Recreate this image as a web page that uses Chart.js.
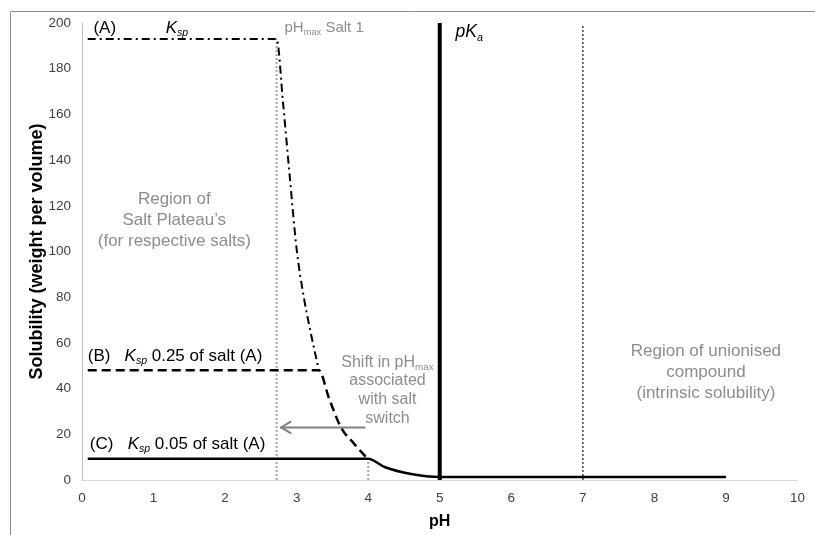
<!DOCTYPE html>
<html>
<head>
<meta charset="utf-8">
<script src="https://cdn.jsdelivr.net/npm/chart.js@4.4.0/dist/chart.umd.min.js"></script>
<style>
  html, body { margin: 0; padding: 0; background: #fff; }
  #wrap { width: 815px; height: 535px; position: relative; }
</style>
</head>
<body>
<div id="wrap"><canvas id="chart"></canvas></div>
<script>
// values
const saltA_pH = [0.08, 2.72, 2.81, 2.9, 3.0, 3.1, 3.18, 3.31];
const saltA_sol = [193, 193, 165, 134, 101, 80, 67, 48];
const saltB_pH = [0.08, 3.31, 3.45, 3.62, 3.8, 3.97];
const saltB_sol = [48, 48, 36, 23, 16, 10];
const saltC_pH = [0.08, 4.0, 4.23, 4.6, 5.0, 9.0];
const saltC_sol = [9.3, 9.3, 5.7, 2.6, 1.3, 1.3];

const pKa = 5;
const pHmaxSalt1 = 2.72;
const pHmaxSalt3 = 4.0;
const unionisedLimit = 7;
const arrowFrom = [3.96, 23];
const arrowTo = [2.77, 23];

const xTicks = [0, 1, 2, 3, 4, 5, 6, 7, 8, 9, 10];
const yTicks = [0, 20, 40, 60, 80, 100, 120, 140, 160, 180, 200];

const FONT = '"Liberation Sans", Arial, sans-serif';
const GREY = "#8c8c8c";

function pts(xs, ys) {
  return xs.map((x, i) => ({ x: x, y: ys[i] }));
}

function line(label, data, color, width, dash, extra) {
  return Object.assign({
    label: label,
    data: data,
    showLine: true,
    borderColor: color,
    borderWidth: width,
    borderDash: dash,
    pointRadius: 0,
    fill: false,
  }, extra || {});
}

// text annotations (data coordinates), drawn by the plugin below
const notes = [
  { x: 0.16, y: 198.4, color: "#000", size: 17, lines: [[{ t: "(A)" }]] },
  { x: 1.17, y: 198.4, color: "#000", size: 17, lines: [[{ t: "K", it: true }, { t: "sp", it: true, sub: true }]] },
  { x: 2.83, y: 198.4, color: GREY, size: 15, lines: [[{ t: "pH" }, { t: "max", sub: true }, { t: " Salt 1" }]] },
  { x: 5.22, y: 196.5, color: "#000", size: 17.5, lines: [[{ t: "pK", it: true }, { t: "a", it: true, sub: true }]] },
  { x: 0.08, y: 54.8, color: "#000", size: 17, lines: [[{ t: "(B)   " }, { t: "K", it: true }, { t: "sp", it: true, sub: true }, { t: " 0.25 of salt (A)" }]] },
  { x: 0.11, y: 16.2, color: "#000", size: 17, lines: [[{ t: "(C)   " }, { t: "K", it: true }, { t: "sp", it: true, sub: true }, { t: " 0.05 of salt (A)" }]] },
  { x: 1.29, y: 123.5, color: GREY, size: 17, center: true, lh: 21,
    lines: [[{ t: "Region of" }], [{ t: "Salt Plateau\u2019s" }], [{ t: "(for respective salts)" }]] },
  { x: 4.27, y: 52.1, color: GREY, size: 16, center: true, lh: 18.7,
    lines: [[{ t: "Shift in pH" }, { t: "max", sub: true }], [{ t: "associated" }], [{ t: "with salt" }], [{ t: "switch" }]] },
  { x: 8.72, y: 56.9, color: GREY, size: 17, center: true, lh: 21,
    lines: [[{ t: "Region of unionised" }], [{ t: "compound" }], [{ t: "(intrinsic solubility)" }]] },
];

function segFont(s, size) {
  const sz = s.sub ? size * 0.62 : size;
  return (s.it ? "italic " : "") + sz + "px " + FONT;
}

function drawRich(ctx, x, y, segs, size, color, center) {
  let w = 0;
  segs.forEach((s) => { ctx.font = segFont(s, size); w += ctx.measureText(s.t).width; });
  let cx = center ? x - w / 2 : x;
  const base = y + size * 0.35;
  ctx.fillStyle = color;
  ctx.textBaseline = "alphabetic";
  ctx.textAlign = "left";
  segs.forEach((s) => {
    ctx.font = segFont(s, size);
    ctx.fillText(s.t, cx, s.sub ? base + size * 0.2 : base);
    cx += ctx.measureText(s.t).width;
  });
}

const extrasPlugin = {
  id: "extras",
  beforeDraw(chart) {
    const ctx = chart.ctx;
    ctx.save();
    ctx.strokeStyle = "#8c8c8c";
    ctx.lineWidth = 1;
    ctx.beginPath();
    ctx.moveTo(10.5, 535);
    ctx.lineTo(10.5, 11.5);
    ctx.lineTo(815, 11.5);
    ctx.stroke();
    ctx.restore();
  },
  afterDatasetsDraw(chart) {
    const ctx = chart.ctx;
    const xs = chart.scales.x, ys = chart.scales.y;
    ctx.save();
    // arrow head
    const tx = xs.getPixelForValue(arrowTo[0]);
    const ty = ys.getPixelForValue(arrowTo[1]);
    ctx.strokeStyle = "#808080";
    ctx.lineWidth = 2;
    ctx.beginPath();
    ctx.moveTo(tx + 11, ty - 6);
    ctx.lineTo(tx + 1, ty);
    ctx.lineTo(tx + 11, ty + 6);
    ctx.stroke();
    notes.forEach((n) => {
      const px = xs.getPixelForValue(n.x);
      const py = ys.getPixelForValue(n.y);
      n.lines.forEach((segs, i) => {
        drawRich(ctx, px, py + i * (n.lh || 0), segs, n.size, n.color, n.center);
      });
    });
    ctx.restore();
  },
};

new Chart(document.getElementById("chart"), {
  type: "scatter",
  data: {
    datasets: [
      line("Salt A", pts(saltA_pH, saltA_sol), "#000", 2, [8, 4, 2, 4], { cubicInterpolationMode: "monotone" }),
      line("Salt B", pts(saltB_pH, saltB_sol), "#000", 2.5, [9, 5], { cubicInterpolationMode: "monotone" }),
      line("Salt C", pts(saltC_pH, saltC_sol), "#000", 2.5, [], { cubicInterpolationMode: "monotone" }),
      line("pKa", pts([pKa, pKa], [0, 200]), "#000", 4, []),
      line("Arrow", pts([arrowFrom[0], arrowTo[0]], [arrowFrom[1], arrowTo[1]]), "#808080", 2, []),
      line("Unionised", pts([unionisedLimit, unionisedLimit], [0, 199]), "#404040", 1.5, [2, 2]),
      line("pHmax 1", pts([pHmaxSalt1, pHmaxSalt1], [0, 193]), "#a6a6a6", 2, [2, 2]),
      line("pHmax 3", pts([pHmaxSalt3, pHmaxSalt3], [0, 9.3]), "#a6a6a6", 2, [2, 2]),
    ],
  },
  options: {
    responsive: true,
    maintainAspectRatio: false,
    animation: false,
    layout: { padding: { left: 20, right: 13, top: 23, bottom: 0 } },
    plugins: {
      legend: { display: false },
      tooltip: { enabled: false },
    },
    scales: {
      x: {
        type: "linear",
        min: 0,
        max: 10,
        afterBuildTicks: (s) => { s.ticks = xTicks.map((v) => ({ value: v })); },
        afterFit: (s) => { s.height = 55; },
        ticks: { color: "#404040", font: { size: 13.5, family: FONT }, padding: 10 },
        grid: { display: false, drawTicks: false },
        border: { color: "#d9d9d9", width: 1 },
        title: { display: true, text: "pH", color: "#000", font: { size: 16, weight: "bold", family: FONT }, padding: { top: 8 } },
      },
      y: {
        min: 0,
        max: 200,
        afterBuildTicks: (s) => { s.ticks = yTicks.map((v) => ({ value: v })); },
        afterFit: (s) => { s.width = 62; },
        ticks: { color: "#404040", font: { size: 13.5, family: FONT }, padding: 11 },
        grid: { display: false, drawTicks: false },
        border: { color: "#bfbfbf", width: 1 },
        title: { display: true, text: "Solubility (weight per volume)", color: "#000", font: { size: 18, weight: "bold", family: FONT }, padding: { top: 6 } },
      },
    },
  },
  plugins: [extrasPlugin],
});
</script>
</body>
</html>
